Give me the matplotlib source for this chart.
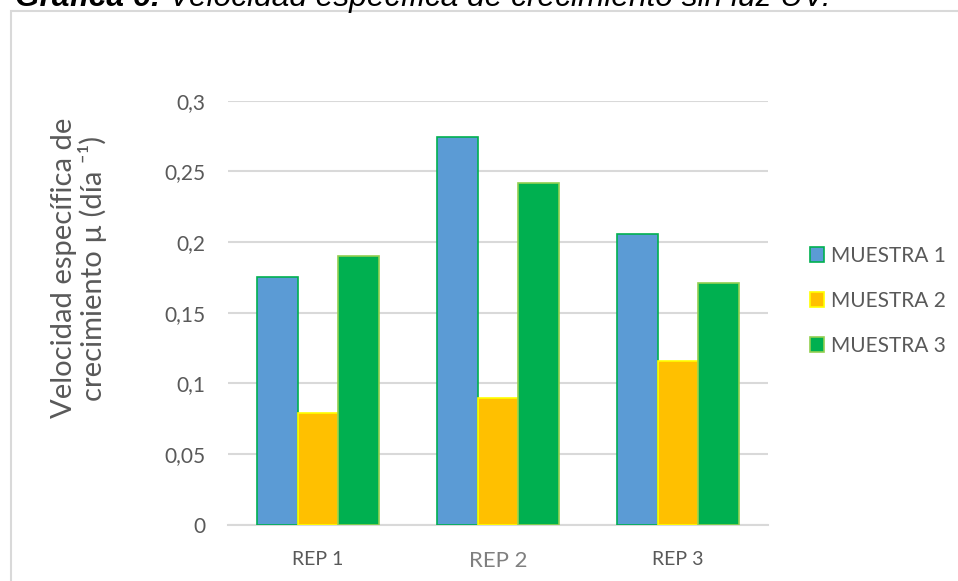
"""
plot.py - Velocidad específica de crecimiento sin luz UV (bar chart).
"""

import numpy as np
import matplotlib
matplotlib.use("Agg")
import matplotlib.pyplot as plt
from matplotlib.patches import Rectangle

# ─────────────────────────────────────────────────────────────────────────────
# Data
# ─────────────────────────────────────────────────────────────────────────────

categories = ["REP 1", "REP 2", "REP 3"]
series_names = ["MUESTRA 1", "MUESTRA 2", "MUESTRA 3"]
muestra_1 = [0.175, 0.274, 0.206]
muestra_2 = [0.079, 0.090, 0.116]
muestra_3 = [0.190, 0.242, 0.171]
y_ticks = [0, 0.05, 0.1, 0.15, 0.2, 0.25, 0.3]
y_tick_labels = ["0", "0,05", "0,1", "0,15", "0,2", "0,25", "0,3"]

fills = ["#5B9BD5", "#FFC000", "#00B050"]
edges = ["#00B050", "#FFFF00", "#92D050"]

TEXT = "#595959"
GRID = "#D9D9D9"
FONT = ["Lato", "DejaVu Sans"]

# ─────────────────────────────────────────────────────────────────────────────
# Figure
# ─────────────────────────────────────────────────────────────────────────────

W, H = 958, 581
fig = plt.figure(figsize=(W / 100, H / 100), dpi=100)
fig.patch.set_facecolor("white")

# chart area frame (only top and left edges fall inside the image)
fig.patches.append(Rectangle((11 / W, -0.2), 1.2, 1.2 - 11 / H,
                             transform=fig.transFigure, fill=False,
                             edgecolor=GRID, linewidth=1.5))

# caption, partly cut off at the top: bold label followed by italic text
base_y = 1 - 6 / H
head = fig.text(15 / W, base_y, "Gráfica 6:", fontsize=22.8, family="Liberation Sans",
                style="italic", weight="bold", va="baseline", ha="left")
renderer = fig.canvas.get_renderer()
head_end = head.get_window_extent(renderer).x1
fig.text((head_end + 8) / W, base_y, "Velocidad específica de crecimiento sin luz UV.",
         fontsize=22.8, family="Liberation Sans", style="italic",
         va="baseline", ha="left")

ax = fig.add_axes([228 / W, 1 - 524.7 / H, 540 / W, 424 / H])

x = np.arange(len(categories))
width = 0.225
for i, (vals, name) in enumerate(zip([muestra_1, muestra_2, muestra_3], series_names)):
    ax.bar(x + (i - 1) * width, vals, width, color=fills[i], edgecolor=edges[i],
           linewidth=1.2, label=name, zorder=3)

ax.set_xlim(-0.5, len(categories) - 0.5)
ax.set_ylim(0, 0.3)
ax.set_yticks(y_ticks)
ax.set_yticklabels(y_tick_labels, family=FONT, fontsize=15, color=TEXT)
ax.set_xticks(x)
ax.set_xticklabels(categories, family=FONT, fontsize=14, color=TEXT)
# middle category label is drawn larger and lighter
mid = ax.get_xticklabels()[1]
mid.set_fontsize(16)
mid.set_color("#7F7F7F")

ax.tick_params(axis="both", length=0)
ax.tick_params(axis="y", pad=16)
ax.tick_params(axis="x", pad=19)
ax.yaxis.grid(True, color=GRID, linewidth=1.5, zorder=0)
for side in ["top", "right", "left"]:
    ax.spines[side].set_visible(False)
ax.spines["bottom"].set_color(GRID)
ax.spines["bottom"].set_linewidth(1.5)

fig.text(79 / W, 1 - 268 / H,
         "Velocidad específica de\ncrecimiento µ (día ⁻¹)",
         rotation=90, ha="center", va="center", multialignment="center",
         family=FONT, fontsize=21, color=TEXT, linespacing=1.05)

leg = ax.legend(loc="center left", bbox_to_anchor=(1.05, 0.528), frameon=False,
                prop={"family": FONT, "size": 15}, handlelength=0.7,
                handleheight=0.7, handletextpad=0.35, labelspacing=1.2,
                borderaxespad=0.3)
for t in leg.get_texts():
    t.set_color(TEXT)

plt.savefig("out.png", dpi=100)
plt.close()
